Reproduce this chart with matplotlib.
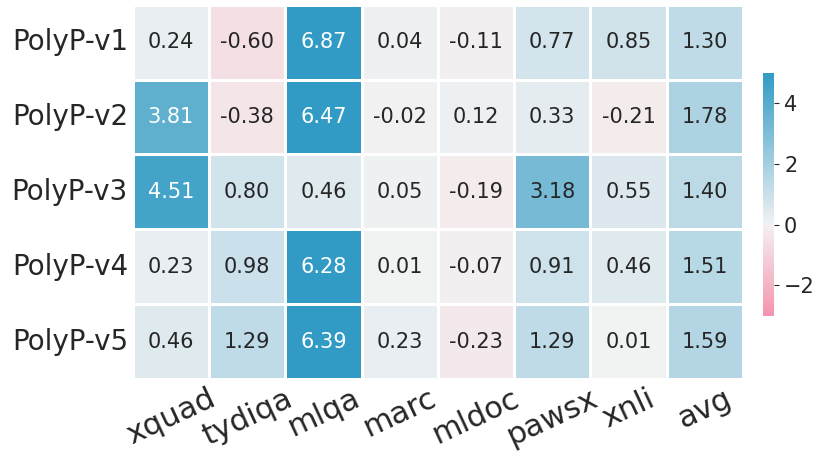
import numpy as np
import matplotlib
matplotlib.use("Agg")
import matplotlib.pyplot as plt
import seaborn as sns

models = ["PolyP-v1", "PolyP-v2", "PolyP-v3", "PolyP-v4", "PolyP-v5"]
tasks = ["xquad", "tydiqa", "mlqa", "marc", "mldoc", "pawsx", "xnli", "avg"]

v1 = [0.24, -0.60, 6.87, 0.04, -0.11, 0.77, 0.85, 1.30]
v2 = [3.81, -0.38, 6.47, -0.02, 0.12, 0.33, -0.21, 1.78]
v3 = [4.51, 0.80, 0.46, 0.05, -0.19, 3.18, 0.55, 1.40]
v4 = [0.23, 0.98, 6.28, 0.01, -0.07, 0.91, 0.46, 1.51]
v5 = [0.46, 1.29, 6.39, 0.23, -0.23, 1.29, 0.01, 1.59]

data = np.array([v1, v2, v3, v4, v5])

plt.rcParams["text.color"] = "#262626"
plt.rcParams["xtick.color"] = "#262626"
plt.rcParams["ytick.color"] = "#262626"

fig = plt.figure(figsize=(8.3, 4.68), dpi=100)
ax = fig.add_axes([0.16, 0.19, 0.735, 0.8])
cax = fig.add_axes([0.919, 0.325, 0.014, 0.52])

cmap = sns.diverging_palette(0, 230, s=90, l=60, as_cmap=True)
sns.heatmap(data, ax=ax, cbar_ax=cax, cmap=cmap, vmin=-3, vmax=5, center=0,
            annot=True, fmt=".2f", annot_kws={"size": 15},
            linewidths=2, linecolor="white",
            xticklabels=tasks, yticklabels=models)

ax.tick_params(axis="both", length=0)
ax.set_yticklabels(models, rotation=0, fontsize=20)
ax.set_xticklabels(tasks, rotation=25, fontsize=22)
cax.tick_params(labelsize=15)
cax.set_yticks([-2, 0, 2, 4])
for s in cax.spines.values():
    s.set_visible(False)

fig.savefig("out.png", dpi=100)
